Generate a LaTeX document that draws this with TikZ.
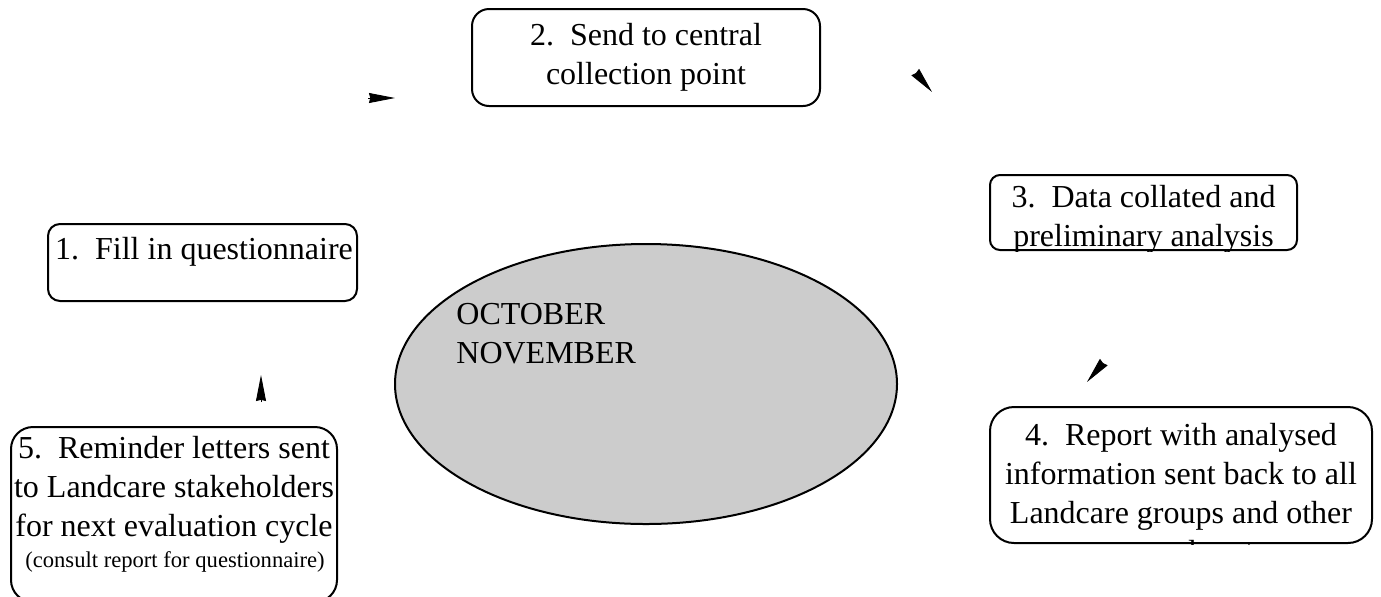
\documentclass[tikz,border=0pt]{standalone}
\usepackage{fontspec}
\setmainfont{Liberation Serif}
\usetikzlibrary{arrows.meta,shapes.geometric}
\definecolor{ovalgray}{HTML}{CCCCCC}

\begin{document}
\begin{tikzpicture}[x=0.5pt,y=-0.5pt,
  stepbox/.style={draw,line width=1pt,inner sep=0pt},
  steptext/.style={anchor=north,inner sep=0pt,align=center,font=\fontsize{16}{19.5}\selectfont},
  monthtext/.style={anchor=north west,inner sep=0pt,align=left,font=\fontsize{16}{19.5}\selectfont},
  notetext/.style={anchor=base,inner sep=0pt,font=\fontsize{11.3}{13}\selectfont},
  headtip/.style={-{Stealth[length=13pt,width=5pt,inset=0.6pt]},line width=0.4pt}]
\useasboundingbox (0,0) rectangle (1381,596);
% centre oval
\node[ellipse,draw,line width=1pt,fill=ovalgray,minimum width=251pt,minimum height=140pt,inner sep=0pt] (oval) at (646,384) {};
\node[monthtext] (months) at (456,303) {OCTOBER\\NOVEMBER};
% step boxes
\node[stepbox,rounded corners=6pt,minimum width=154.5pt,minimum height=38.5pt] (fillbox) at (202.5,262.5) {};
\node[steptext] (filltext) at (204,237) {1.~~Fill in questionnaire};
\node[stepbox,rounded corners=8.5pt,minimum width=174pt,minimum height=48.5pt] (sendbox) at (646,57.5) {};
\node[steptext] (sendtext) at (646,23) {2.~~Send to central\\collection point};
\node[stepbox,rounded corners=5pt,minimum width=153.5pt,minimum height=37.5pt] (collatebox) at (1143.5,212.5) {};
\begin{scope}
  \clip[rounded corners=5pt] (collatebox.south west) rectangle (collatebox.north east);
  \node[steptext] (collatetext) at (1143.5,185) {3.~~Data collated and\\preliminary analysis};
\end{scope}
\node[stepbox,rounded corners=12pt,minimum width=191pt,minimum height=68pt] (reportbox) at (1181,475) {};
\begin{scope}
  \clip[rounded corners=12pt] (reportbox.south west) rectangle (reportbox.north east);
  \node[steptext] (reporttext) at (1181,423) {4.~~Report with analysed\\information sent back to all\\Landcare groups and other\\groups and partners};
\end{scope}
\node[stepbox,rounded corners=11pt,minimum width=163pt,minimum height=87.5pt] (remindbox) at (174,514.5) {};
\node[steptext] (remindtext) at (174,436) {5.~~Reminder letters sent\\to Landcare stakeholders\\for next evaluation cycle};
\node[notetext] (remindnote) at (175,567) {(consult report for questionnaire)};
% arrow heads
\coordinate (a1s) at (368,98);   \coordinate (a1e) at (395,98);
\coordinate (a2s) at (916,73);   \coordinate (a2e) at (932,92);
\coordinate (a3s) at (1103,363); \coordinate (a3e) at (1087,382);
\coordinate (a4s) at (261,402);  \coordinate (a4e) at (261,375);
\foreach \s/\e in {a1s/a1e,a2s/a2e,a3s/a3e,a4s/a4e}
  \draw[headtip] (\s) -- (\e);
\end{tikzpicture}
\end{document}
